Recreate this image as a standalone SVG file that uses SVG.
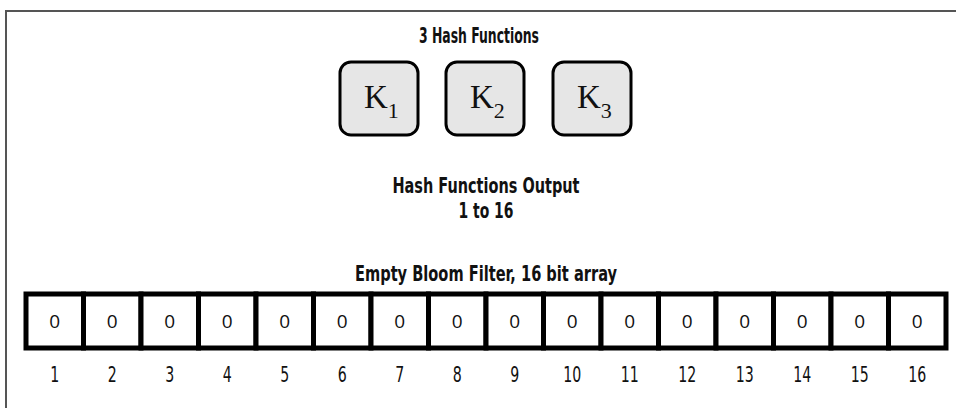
<svg xmlns="http://www.w3.org/2000/svg" width="956" height="408" viewBox="0 0 956 408">
<style>
.t{font-family:"Liberation Sans Narrow","DejaVu Sans Condensed","Liberation Sans",sans-serif;font-weight:bold;font-size:21px;fill:#111;text-anchor:middle}
.key rect{fill:#e6e6e6;stroke:#000;stroke-width:3}
.k{font-family:"Liberation Serif","DejaVu Serif",serif;font-size:33px;fill:#111}
.ks{font-size:22px}
.cell rect{fill:#fff;stroke:#000;stroke-width:5}
.z{font-family:"Open Sans","Liberation Sans",sans-serif;font-size:19px;fill:#111;text-anchor:middle}
.n{font-family:"Liberation Sans Narrow","DejaVu Sans Condensed","Liberation Sans",sans-serif;font-size:22px;fill:#111;text-anchor:middle}
</style>
<rect width="956" height="408" fill="#fff"/>
<path d="M6 408V11H956" fill="none" stroke="#555" stroke-width="2"/>
<text class="t" x="479" y="43" textLength="120" lengthAdjust="spacingAndGlyphs">3 Hash Functions</text>
<g id="K1" class="key"><rect x="340" y="62" width="78" height="73" rx="11"/><text class="k" x="364" y="108">K<tspan class="ks" dy="10">1</tspan></text></g>
<g id="K2" class="key"><rect x="446" y="62" width="78" height="73" rx="11"/><text class="k" x="470" y="108">K<tspan class="ks" dy="10">2</tspan></text></g>
<g id="K3" class="key"><rect x="553" y="62" width="78" height="73" rx="11"/><text class="k" x="577" y="108">K<tspan class="ks" dy="10">3</tspan></text></g>
<text class="t" x="486" y="193" textLength="187" lengthAdjust="spacingAndGlyphs">Hash Functions Output</text>
<text class="t" x="486" y="218" textLength="55" lengthAdjust="spacingAndGlyphs">1 to 16</text>
<text class="t" x="486" y="281" textLength="262" lengthAdjust="spacingAndGlyphs">Empty Bloom Filter, 16 bit array</text>
<g id="array">
<g id="c1" class="cell"><rect x="26" y="294" width="57.5" height="54"/><text class="z" x="54.75" y="328">0</text><text class="n" x="54.75" y="382" textLength="9" lengthAdjust="spacingAndGlyphs">1</text></g>
<g id="c2" class="cell"><rect x="83.5" y="294" width="57.5" height="54"/><text class="z" x="112.25" y="328">0</text><text class="n" x="112.25" y="382" textLength="9" lengthAdjust="spacingAndGlyphs">2</text></g>
<g id="c3" class="cell"><rect x="141" y="294" width="57.5" height="54"/><text class="z" x="169.75" y="328">0</text><text class="n" x="169.75" y="382" textLength="9" lengthAdjust="spacingAndGlyphs">3</text></g>
<g id="c4" class="cell"><rect x="198.5" y="294" width="57.5" height="54"/><text class="z" x="227.25" y="328">0</text><text class="n" x="227.25" y="382" textLength="9" lengthAdjust="spacingAndGlyphs">4</text></g>
<g id="c5" class="cell"><rect x="256" y="294" width="57.5" height="54"/><text class="z" x="284.75" y="328">0</text><text class="n" x="284.75" y="382" textLength="9" lengthAdjust="spacingAndGlyphs">5</text></g>
<g id="c6" class="cell"><rect x="313.5" y="294" width="57.5" height="54"/><text class="z" x="342.25" y="328">0</text><text class="n" x="342.25" y="382" textLength="9" lengthAdjust="spacingAndGlyphs">6</text></g>
<g id="c7" class="cell"><rect x="371" y="294" width="57.5" height="54"/><text class="z" x="399.75" y="328">0</text><text class="n" x="399.75" y="382" textLength="9" lengthAdjust="spacingAndGlyphs">7</text></g>
<g id="c8" class="cell"><rect x="428.5" y="294" width="57.5" height="54"/><text class="z" x="457.25" y="328">0</text><text class="n" x="457.25" y="382" textLength="9" lengthAdjust="spacingAndGlyphs">8</text></g>
<g id="c9" class="cell"><rect x="486" y="294" width="57.5" height="54"/><text class="z" x="514.75" y="328">0</text><text class="n" x="514.75" y="382" textLength="9" lengthAdjust="spacingAndGlyphs">9</text></g>
<g id="c10" class="cell"><rect x="543.5" y="294" width="57.5" height="54"/><text class="z" x="572.25" y="328">0</text><text class="n" x="572.25" y="382" textLength="18" lengthAdjust="spacingAndGlyphs">10</text></g>
<g id="c11" class="cell"><rect x="601" y="294" width="57.5" height="54"/><text class="z" x="629.75" y="328">0</text><text class="n" x="629.75" y="382" textLength="18" lengthAdjust="spacingAndGlyphs">11</text></g>
<g id="c12" class="cell"><rect x="658.5" y="294" width="57.5" height="54"/><text class="z" x="687.25" y="328">0</text><text class="n" x="687.25" y="382" textLength="18" lengthAdjust="spacingAndGlyphs">12</text></g>
<g id="c13" class="cell"><rect x="716" y="294" width="57.5" height="54"/><text class="z" x="744.75" y="328">0</text><text class="n" x="744.75" y="382" textLength="18" lengthAdjust="spacingAndGlyphs">13</text></g>
<g id="c14" class="cell"><rect x="773.5" y="294" width="57.5" height="54"/><text class="z" x="802.25" y="328">0</text><text class="n" x="802.25" y="382" textLength="18" lengthAdjust="spacingAndGlyphs">14</text></g>
<g id="c15" class="cell"><rect x="831" y="294" width="57.5" height="54"/><text class="z" x="859.75" y="328">0</text><text class="n" x="859.75" y="382" textLength="18" lengthAdjust="spacingAndGlyphs">15</text></g>
<g id="c16" class="cell"><rect x="888.5" y="294" width="57.5" height="54"/><text class="z" x="917.25" y="328">0</text><text class="n" x="917.25" y="382" textLength="18" lengthAdjust="spacingAndGlyphs">16</text></g>
</g>
</svg>
